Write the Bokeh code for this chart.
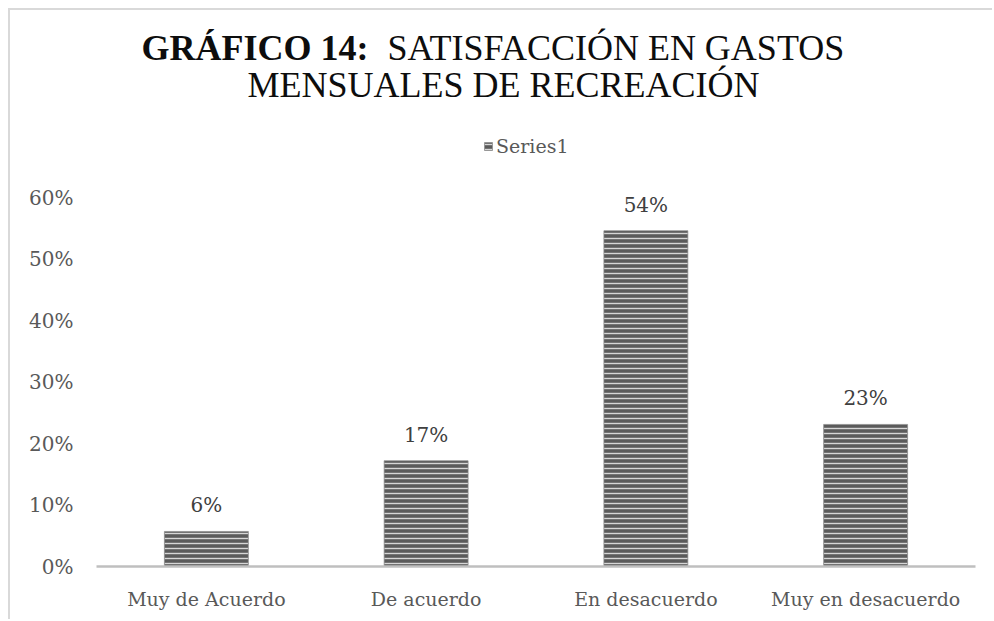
from bokeh.plotting import figure
from bokeh.models import (FactorRange, Range1d, FixedTicker, NumeralTickFormatter,
                          ColumnDataSource, Legend, LegendItem)
from bokeh.core.properties import value
from bokeh.embed import file_html
from bokeh.resources import INLINE

# ---- data ----
categories = ["Muy de Acuerdo", "De acuerdo", "En desacuerdo", "Muy en desacuerdo"]
values = [0.057, 0.172, 0.546, 0.231]
value_labels = ["6%", "17%", "54%", "23%"]
y_ticks = [0, 0.1, 0.2, 0.3, 0.4, 0.5, 0.6]
series_name = "Series1"
title_bold = "GRÁFICO 14:"
title_rest = "SATISFACCIÓN EN GASTOS"
title_line2 = "MENSUALES DE RECREACIÓN"

# ---- layout (page coordinates of the reference) ----
OFF = 10  # canvas origin on the page (margin + border)
W, H = 984, 611
LEFT = 96 - OFF
RIGHT = W - (975 - OFF)
BOTTOM = H - (566 - OFF)
PX_PER_UNIT_Y = (566 - 197) / 0.6
frame_w = W - LEFT - RIGHT
frame_h = H - BOTTOM
y_end = frame_h / PX_PER_UNIT_Y
px_per_cat = frame_w / len(categories)


def sx(px):  # page px -> synthetic x
    return (px - OFF - LEFT) / px_per_cat


def sy(py):  # page px (from top) -> data y
    return (frame_h - (py - OFF)) / PX_PER_UNIT_Y


SERIF = "DejaVu Serif"
TITLE_FONT = "Liberation Serif"

p = figure(x_range=FactorRange(factors=categories), y_range=Range1d(0, y_end),
           width=W, height=H, output_backend="svg", toolbar_location=None,
           min_border_left=LEFT, min_border_right=RIGHT, min_border_bottom=BOTTOM,
           min_border_top=0, background_fill_color="white", border_fill_color="white",
           styles={"margin-left": "8px", "margin-top": "8px",
                   "border-width": "2px 0px 0px 2px", "border-style": "solid",
                   "border-color": "#d9d9d9"})
p.outline_line_color = None
p.xgrid.visible = False
p.ygrid.visible = False

src = ColumnDataSource(dict(cat=categories, val=values, lab=value_labels))
bars = p.vbar(x="cat", top="val", width=0.382, source=src,
              fill_color="#5b5b5b", line_color="#8c8c8c", line_alpha=0.7, line_width=1,
              hatch_pattern="horizontal_line", hatch_color="#d6d6d6",
              hatch_scale=5, hatch_weight=1.4)

p.text(x="cat", y="val", text="lab", source=src, y_offset=-26,
       text_align="center", text_baseline="alphabetic",
       text_font=value(SERIF), text_font_size="20px", text_color="#404040")

# title
TS = "36px"
tsrc1 = ColumnDataSource(dict(x=[sx(368)], y=[sy(47)], t=[title_bold]))
p.text(x="x", y="y", text="t", source=tsrc1, text_align="right", text_baseline="alphabetic",
       text_font=value(TITLE_FONT), text_font_style="bold", text_font_size=TS, text_color="#0d0d0d")
tsrc2 = ColumnDataSource(dict(x=[sx(387)], y=[sy(47)], t=[title_rest]))
p.text(x="x", y="y", text="t", source=tsrc2, text_align="left", text_baseline="alphabetic",
       text_font=value(TITLE_FONT), text_font_size=TS, text_color="#0d0d0d")
tsrc3 = ColumnDataSource(dict(x=[sx(503)], y=[sy(84)], t=[title_line2]))
p.text(x="x", y="y", text="t", source=tsrc3, text_align="center", text_baseline="alphabetic",
       text_font=value(TITLE_FONT), text_font_size=TS, text_color="#0d0d0d")

# axes
p.yaxis.ticker = FixedTicker(ticks=y_ticks)
p.yaxis.formatter = NumeralTickFormatter(format="0%")
p.yaxis.axis_line_color = None
p.yaxis.major_tick_line_color = None
p.yaxis.minor_tick_line_color = None
p.yaxis.major_tick_out = 0
p.yaxis.major_tick_in = 0
p.yaxis.major_label_standoff = 23
p.yaxis.major_label_text_font = SERIF
p.yaxis.major_label_text_font_size = "20px"
p.yaxis.major_label_text_color = "#595959"

p.xaxis.axis_line_color = "#bfbfbf"
p.xaxis.axis_line_width = 2.5
p.xaxis.major_tick_line_color = None
p.xaxis.minor_tick_line_color = None
p.xaxis.major_label_standoff = 15
p.xaxis.major_label_text_font = SERIF
p.xaxis.major_label_text_font_size = "19px"
p.xaxis.major_label_text_color = "#595959"

legend = Legend(items=[LegendItem(label=series_name, renderers=[bars])],
                location=(483 - OFF - LEFT, frame_h - (147 - OFF) - 10), orientation="horizontal",
                border_line_color=None, background_fill_alpha=0,
                padding=0, margin=0, spacing=0,
                glyph_width=10, glyph_height=10, label_standoff=3,
                label_text_font=SERIF, label_text_font_size="19px",
                label_text_color="#595959")
p.add_layout(legend)

open("out.html", "w").write(file_html(p, INLINE))
